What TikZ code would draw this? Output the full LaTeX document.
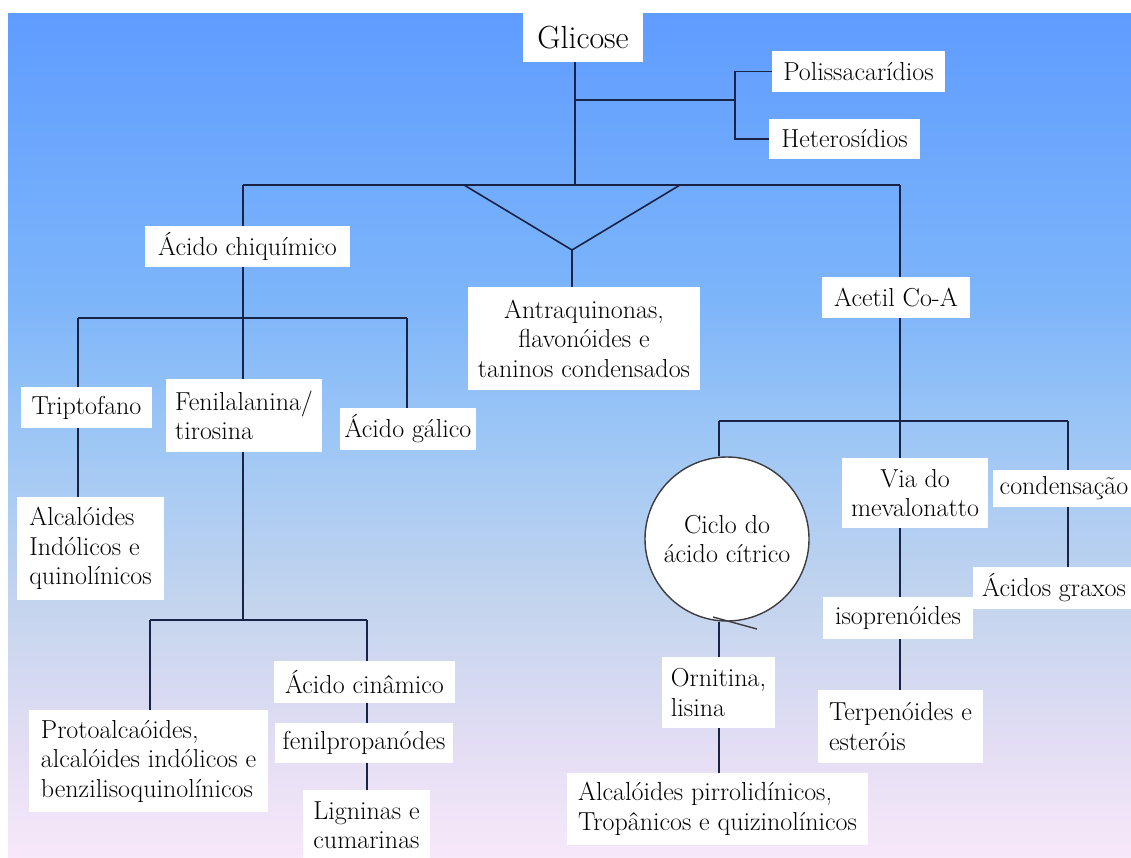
\documentclass[tikz,border=0pt]{standalone}
\usepackage{fontspec}
\definecolor{cT}{RGB}{95,156,255}
\definecolor{c300}{RGB}{125,181,250}
\definecolor{c450}{RGB}{160,200,245}
\definecolor{c600}{RGB}{195,212,238}
\definecolor{c750}{RGB}{228,222,244}
\definecolor{cB}{RGB}{247,232,250}
\definecolor{linec}{RGB}{25,35,70}
\definecolor{circc}{RGB}{60,60,65}
\pgfdeclareverticalshading{bgsh}{100bp}{color(0bp)=(cB); color(25bp)=(cB); color(31.3bp)=(c750); color(40.2bp)=(c600); color(49.1bp)=(c450); color(58bp)=(c300); color(75bp)=(cT); color(100bp)=(cT)}
\newcommand\fs{\rmfamily\fontsize{26}{29.5}\selectfont}
\newcommand{\bx}[7][]{\node[box,minimum width={(#5-#3)*1pt},minimum height={(#6-#4)*1pt},#1] (#2) at ({(#3+#5)/2},{(#4+#6)/2}) {#7};}
\tikzset{
  box/.style={fill=white, inner sep=0pt, outer sep=0pt, align=center, font=\fs},
  ln/.style={draw=linec, line width=1.6pt}
}
\begin{document}
\begin{tikzpicture}[x=1pt,y=-1pt]
\useasboundingbox (0,0) rectangle (1131,857);
\fill[white] (0,0) rectangle (1131,857);
\shade[shading=bgsh] (8,13) rectangle (1131,857);
% nodes
\bx[font=\rmfamily\fontsize{32}{36}\selectfont]{glic}{523}{13}{643}{62}{Glicose}
\bx{poli}{772}{51}{945}{92}{Polissacarídios}
\bx{hete}{769}{119}{920}{159}{Heterosídios}
\bx{chiq}{145}{226}{350}{267}{Ácido chiquímico}
\bx{antr}{468}{287}{700}{390}{Antraquinonas,\\flavonóides e\\taninos condensados}
\bx{acet}{822}{277}{970}{318}{Acetil Co-A}
\bx{trip}{21}{387}{152}{428}{Triptofano}
\bx[align=left]{fen}{166}{379}{322}{452}{Fenilalanina/\\tirosina}
\bx{gal}{340}{408}{476}{450}{Ácido gálico}
\bx[align=left]{alci}{17}{497}{164}{600}{Alcalóides\\Indólicos e\\quinolínicos}
\bx[align=left]{prot}{29}{710}{268}{812}{Protoalcaóides,\\alcalóides indólicos e\\benzilisoquinolínicos}
\bx{cina}{274}{661}{455}{703}{Ácido cinâmico}
\bx{fenp}{275}{723}{453}{763}{fenilpropanódes}
\bx[align=left]{lign}{303}{790}{430}{860}{Ligninas e\\cumarinas}
\bx{via}{842}{458}{988}{528}{Via do\\mevalonatto}
\bx{cond}{993}{470}{1135}{507}{condensação}
\bx{acgr}{973}{567}{1135}{609}{Ácidos graxos}
\bx{iso}{823}{597}{973}{639}{isoprenóides}
\bx[align=left]{terp}{818}{690}{983}{763}{Terpenóides e\\esteróis}
\bx[align=left]{orni}{662}{657}{775}{728}{Ornitina,\\lisina}
\bx[align=left]{alcp}{567}{773}{868}{845}{Alcalóides pirrolidínicos,\\Tropânicos e quizinolínicos}
\node[circle, draw=circc, line width=1.4pt, fill=white, minimum size=164pt, inner sep=0pt, align=center, font=\fs] (circ) at (727,539) {Ciclo do\\ácido cítrico};
% junctions
\coordinate (hb) at (575,185);
\coordinate (hbL) at (243,185);
\coordinate (hbR) at (900,185);
\coordinate (pj) at (735,100);
\coordinate (tl) at (464,185);
\coordinate (tr) at (680,185);
\coordinate (ta) at (572,250);
\coordinate (cjL) at (78,318);
\coordinate (cjR) at (407,318);
\coordinate (fj) at (243,620);
\coordinate (fjL) at (150,620);
\coordinate (fjR) at (367,620);
\coordinate (aj) at (900,421);
\coordinate (ajL) at (719,421);
\coordinate (ajR) at (1068,421);
\coordinate (tk1) at (713,617);
\coordinate (tk2) at (757,629);
% connectors
\draw[ln] (hb |- glic.south) -- (hb);
\draw[ln] (hb |- pj) -- (pj);
\draw[ln] (poli.west) -| (pj) |- (hete.west);
\draw[ln] (hbL) -- (hbR);
\draw[ln] (tl) -- (ta) -- (tr);
\draw[ln] (ta) -- (ta |- antr.north);
\draw[ln] (hbL) -- (hbL |- chiq.north);
\draw[ln] (hbR) -- (hbR |- acet.north);
\draw[ln] (hbL |- chiq.south) -- (hbL |- fen.north);
\draw[ln] (cjL) -- (cjR);
\draw[ln] (cjL) -- (cjL |- trip.north);
\draw[ln] (cjL |- trip.south) -- (cjL |- alci.north);
\draw[ln] (cjR) -- (cjR |- gal.north);
\draw[ln] (hbL |- fen.south) -- (fj);
\draw[ln] (fjL) -- (fjR);
\draw[ln] (fjL) -- (fjL |- prot.north);
\draw[ln] (fjR) -- (fjR |- cina.north);
\draw[ln] (fjR |- cina.south) -- (fjR |- fenp.north);
\draw[ln] (fjR |- fenp.south) -- (fjR |- lign.north);
\draw[ln] (hbR |- acet.south) -- (aj);
\draw[ln] (ajL) -- (ajR);
\draw[ln] (ajL) -- (ajL |- circ.north);
\draw[ln] (aj) -- (aj |- via.north);
\draw[ln] (aj |- via.south) -- (aj |- iso.north);
\draw[ln] (aj |- iso.south) -- (aj |- terp.north);
\draw[ln] (ajR) -- (ajR |- cond.north);
\draw[ln] (ajR |- cond.south) -- (ajR |- acgr.north);
\draw[ln] (ajL |- circ.south) -- (ajL |- orni.north);
\draw[ln] (ajL |- orni.south) -- (ajL |- alcp.north);
\draw[draw=circc, line width=1.4pt] (tk1) -- (tk2);
\end{tikzpicture}
\end{document}
